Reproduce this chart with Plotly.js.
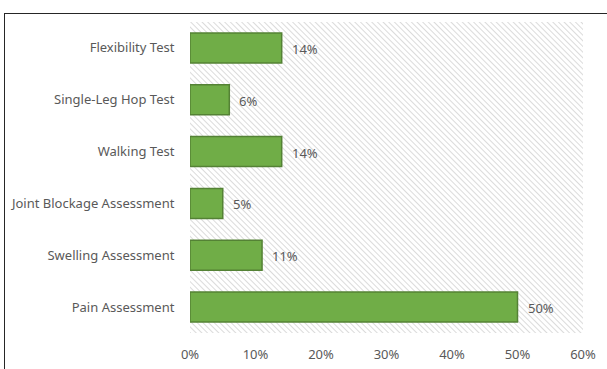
<!DOCTYPE html>
<html>
<head>
<meta charset="utf-8">
<script src="https://cdn.plot.ly/plotly-3.0.1.min.js"></script>
<style>
  html, body { margin: 0; padding: 0; background: #fff; }
  #wrap { position: relative; width: 607px; height: 369px; overflow: hidden; }
  #frame { position: absolute; left: 4px; top: 13px; width: 700px; height: 400px;
           border-left: 1px solid #262626; border-top: 1px solid #262626; pointer-events: none; }
  #chart { position: absolute; left: 0; top: 0; width: 607px; height: 369px; }
</style>
</head>
<body>
<div id="wrap">
  <div id="chart"></div>
  <div id="frame"></div>
</div>
<script>
const categories = ["Flexibility Test", "Single-Leg Hop Test", "Walking Test",
                    "Joint Blockage Assessment", "Swelling Assessment", "Pain Assessment"];
const values = [14, 6, 14, 5, 11, 50];
const valueLabels = ["14%", "6%", "14%", "5%", "11%", "50%"];
const xTickVals = [0, 10, 20, 30, 40, 50, 60];
const xTickText = ["0%", "10%", "20%", "30%", "40%", "50%", "60%"];

const textColor = "#595959";
const fontFamily = "Noto Sans, Open Sans, sans-serif";

const hatchSvg = '<svg xmlns="http://www.w3.org/2000/svg" width="393" height="311">' +
  '<defs><pattern id="h" width="4" height="4" patternUnits="userSpaceOnUse" patternTransform="rotate(-45)">' +
  '<line x1="0" y1="0" x2="0" y2="4" stroke="#d2d2d2" stroke-width="1.6"/></pattern></defs>' +
  '<rect width="393" height="311" fill="#ffffff"/><rect width="393" height="311" fill="url(#h)"/></svg>';
const hatchUri = "data:image/svg+xml;base64," + btoa(hatchSvg);

const trace = {
  type: "bar",
  orientation: "h",
  y: categories,
  x: values,
  width: 0.58,
  marker: { color: "#70AD47", line: { color: "#548235", width: 1.5 } },
  hoverinfo: "none"
};

const annotations = categories.map((c, i) => ({
  x: values[i], y: c, xref: "x", yref: "y",
  text: valueLabels[i], showarrow: false,
  xanchor: "left", xshift: 8, yshift: -1,
  font: { family: fontFamily, size: 13, color: textColor }
}));

const layout = {
  width: 607, height: 369,
  margin: { l: 190, r: 24, t: 22, b: 36, pad: 0 },
  paper_bgcolor: "rgba(0,0,0,0)",
  plot_bgcolor: "rgba(0,0,0,0)",
  showlegend: false,
  xaxis: {
    range: [0, 60], tickvals: xTickVals, ticktext: xTickText,
    showgrid: false, zeroline: false, showline: false,
    ticks: "outside", ticklen: 9, tickcolor: "rgba(0,0,0,0)",
    tickfont: { family: fontFamily, size: 13, color: textColor },
    fixedrange: true
  },
  yaxis: {
    autorange: "reversed", type: "category",
    showgrid: false, zeroline: false, showline: false,
    ticks: "outside", ticklen: 12, tickcolor: "rgba(0,0,0,0)",
    tickfont: { family: fontFamily, size: 13, color: textColor },
    fixedrange: true
  },
  images: [{
    source: hatchUri, xref: "paper", yref: "paper",
    x: 0, y: 1, sizex: 1, sizey: 1, sizing: "stretch",
    xanchor: "left", yanchor: "top", layer: "below"
  }],
  annotations: annotations
};

Plotly.newPlot("chart", [trace], layout, { displayModeBar: false, staticPlot: true });
</script>
</body>
</html>
